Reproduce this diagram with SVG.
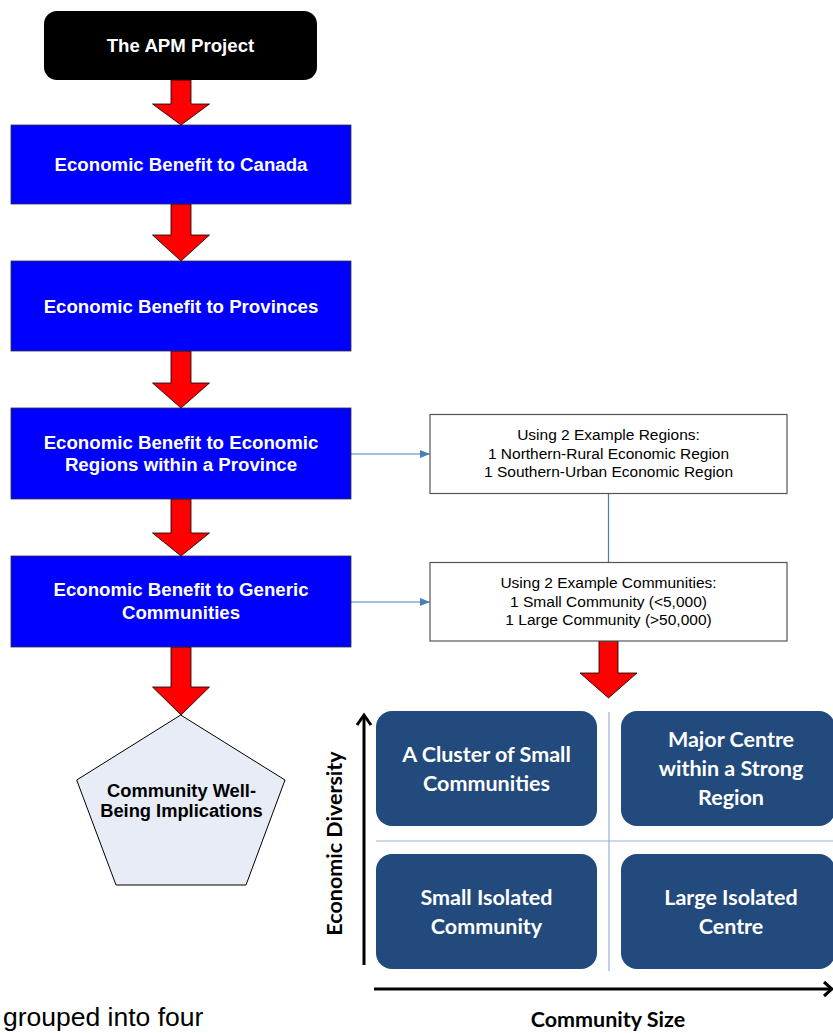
<svg xmlns="http://www.w3.org/2000/svg" width="833" height="1033" viewBox="0 0 833 1033">
<style>
.bt{font-family:"Liberation Sans",Arial,sans-serif;font-weight:bold;font-size:18.67px;fill:#fff;text-anchor:middle}
.rt{font-family:"Liberation Sans",Arial,sans-serif;font-size:15.5px;fill:#000;text-anchor:middle}
.qt{font-family:Lato,"Open Sans",sans-serif;font-weight:bold;font-size:21.5px;fill:#fff;text-anchor:middle}
.ax{font-family:Lato,"Open Sans",sans-serif;font-weight:bold;font-size:21.5px;fill:#000;text-anchor:middle}
.blue{fill:#0000ff;stroke:#333;stroke-width:0.8}
.red{fill:#ff0000;stroke:#000;stroke-width:0.8;stroke-linejoin:miter}
.wbox{fill:#fff;stroke:#555;stroke-width:1.2}
.quad{fill:#234a7c}
.conn{stroke:#4a7ebb;stroke-width:1.2;fill:none}
.div{stroke:#95b3d7;stroke-width:1.2;fill:none}
.axis{stroke:#000;stroke-width:3;fill:none}
</style>
<defs>
<marker id="ah" markerWidth="10" markerHeight="8" refX="10" refY="4" orient="auto" markerUnits="userSpaceOnUse">
<path d="M0,0 L10,4 L0,8 Z" fill="#4a7ebb"/>
</marker>
</defs>

<g id="connectors">
<polygon class="red" points="171,80 191,80 191,104 209.5,104 181,125 152.5,104 171,104"/>
<polygon class="red" points="171,204 191,204 191,235 209.5,235 181,261 152.5,235 171,235"/>
<polygon class="red" points="171,351 191,351 191,383 209.5,383 181,408 152.5,383 171,383"/>
<polygon class="red" points="171,499 191,499 191,533 209.5,533 181,556 152.5,533 171,533"/>
<polygon class="red" points="171,647 191,647 191,687 209.5,687 181,715 152.5,687 171,687"/>
<polygon class="red" points="599,641 618,641 618,673 637,673 608.5,698 580,673 599,673"/>
<line class="conn" x1="351" y1="454" x2="430" y2="454" marker-end="url(#ah)"/>
<line class="conn" x1="351" y1="602" x2="430" y2="602" marker-end="url(#ah)"/>
<line class="conn" x1="608.5" y1="494" x2="608.5" y2="562"/>
</g>

<g id="apm">
<rect x="44" y="11" width="273" height="69" rx="13" fill="#000"/>
<text class="bt" x="180.5" y="52">The APM Project</text>
</g>
<g id="canada">
<rect class="blue" x="11" y="125" width="340" height="79"/>
<text class="bt" x="181" y="171">Economic Benefit to Canada</text>
</g>
<g id="provinces">
<rect class="blue" x="11" y="261" width="340" height="90"/>
<text class="bt" x="181" y="312.5">Economic Benefit to Provinces</text>
</g>
<g id="regions">
<rect class="blue" x="11" y="408" width="340" height="91"/>
<text class="bt" x="181" y="449">Economic Benefit to Economic</text>
<text class="bt" x="181" y="471">Regions within a Province</text>
</g>
<g id="communities">
<rect class="blue" x="11" y="556" width="340" height="91"/>
<text class="bt" x="181" y="596">Economic Benefit to Generic</text>
<text class="bt" x="181" y="618.5">Communities</text>
</g>
<g id="wellbeing">
<polygon points="180.7,715 285,780 246,885 116,885 76.7,780" fill="#e7ecf6" stroke="#000" stroke-width="1"/>
<text class="bt" style="fill:#000;font-size:18.3px" x="181.5" y="797">Community Well-</text>
<text class="bt" style="fill:#000;font-size:18.3px" x="181.5" y="817">Being Implications</text>
</g>
<g id="example-regions">
<rect class="wbox" x="430" y="414.5" width="357" height="79"/>
<text class="rt" x="608.5" y="440">Using 2 Example Regions:</text>
<text class="rt" x="608.5" y="458.5">1 Northern-Rural Economic Region</text>
<text class="rt" x="608.5" y="477">1 Southern-Urban Economic Region</text>
</g>
<g id="example-communities">
<rect class="wbox" x="430" y="562.5" width="357" height="78.5"/>
<text class="rt" x="608.5" y="588">Using 2 Example Communities:</text>
<text class="rt" x="608.5" y="606.5">1 Small Community (&lt;5,000)</text>
<text class="rt" x="608.5" y="625">1 Large Community (&gt;50,000)</text>
</g>

<g id="matrix">
<line class="div" x1="609" y1="712" x2="609" y2="971"/>
<line class="div" x1="376" y1="841" x2="833" y2="841"/>
<polyline class="axis" points="364,965 364,716"/>
<polyline class="axis" points="357,725 364,715 371,725" stroke-linejoin="miter"/>
<line class="axis" x1="374" y1="989" x2="831" y2="989"/>
<polyline class="axis" points="824,982 832,989 824,996"/>
<text class="ax" transform="translate(341.5,843.5) rotate(-90)" x="0" y="0">Economic Diversity</text>
<text class="ax" x="608" y="1027">Community Size</text>
</g>
<g id="cluster">
<rect class="quad" x="376" y="711" width="221" height="115" rx="16"/>
<text class="qt" x="486.5" y="762">A Cluster of Small</text>
<text class="qt" x="486.5" y="791">Communities</text>
</g>
<g id="major">
<rect class="quad" x="621" y="711" width="214" height="115" rx="16"/>
<text class="qt" x="731" y="747">Major Centre</text>
<text class="qt" x="731" y="776">within a Strong</text>
<text class="qt" x="731" y="805">Region</text>
</g>
<g id="small-isolated">
<rect class="quad" x="376" y="854" width="221" height="115" rx="16"/>
<text class="qt" x="486.5" y="905">Small Isolated</text>
<text class="qt" x="486.5" y="934">Community</text>
</g>
<g id="large-isolated">
<rect class="quad" x="621" y="854" width="214" height="115" rx="16"/>
<text class="qt" x="731" y="905">Large Isolated</text>
<text class="qt" x="731" y="934">Centre</text>
</g>
<text x="3" y="1026" font-family="Liberation Sans, Arial, sans-serif" font-size="26.5" fill="#000">grouped into four</text>
</svg>
